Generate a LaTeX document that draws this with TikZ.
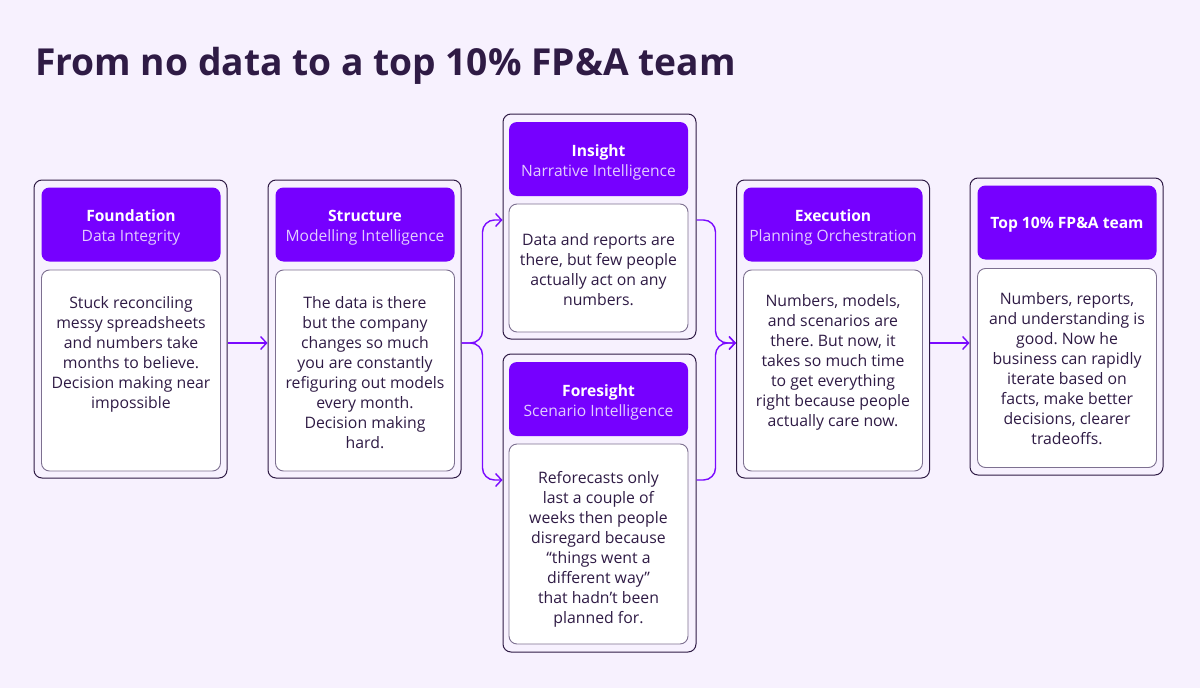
\documentclass[tikz,border=0pt]{standalone}
\usepackage{fontspec}
\setmainfont{Open Sans}
\usetikzlibrary{arrows.meta}
\frenchspacing
\definecolor{bgc}{HTML}{F7F1FE}
\definecolor{darkc}{HTML}{2F1B45}
\definecolor{headc}{HTML}{7600FF}
\definecolor{subc}{HTML}{E2CCFF}
\definecolor{bodyb}{HTML}{7D7090}
\definecolor{flowc}{HTML}{7A0AFF}
\tikzset{
  outerbox/.style={draw=darkc, line width=1pt, rounded corners=8pt, minimum width=193pt, inner sep=0pt},
  headbox/.style={fill=headc, rounded corners=8pt, minimum width=179pt, minimum height=74pt, inner sep=0pt},
  headtext/.style={align=center, text=white, inner sep=0pt, font=\fontsize{15.6pt}{21pt}\selectfont},
  bodybox/.style={draw=bodyb, fill=white, line width=0.9pt, rounded corners=8pt, minimum width=179pt, inner sep=0pt},
  bodytext/.style={align=center, text=darkc, inner sep=0pt, font=\fontsize{15.8pt}{20pt}\selectfont},
  flow/.style={draw=flowc, line width=1.4pt, rounded corners=12pt, -{Straight Barb[length=6pt,width=13pt,line width=1.4pt]}},
}
\newcommand{\hsub}[1]{\\[-1pt]\textcolor{subc}{\fontseries{m}\selectfont #1}}
\begin{document}
\begin{tikzpicture}[x=1pt,y=-1pt]
\fill[bgc] (0,0) rectangle (1200,688);
\useasboundingbox (0,0) rectangle (1200,688);

\node[anchor=base west, text=darkc, inner sep=0pt, font=\fontsize{37.2pt}{40pt}\selectfont\bfseries] (title) at (35,75) {From no data to a top 10\% FP\&A team};

% Foundation
\node[outerbox, minimum height=298pt] (foundation) at (130.5,329) {};
\node[headbox] (foundationH) at (131,224.5) {};
\node[headtext] (foundationL) at (131,227.5) {\textbf{Foundation}\hsub{Data Integrity}};
\node[bodybox, minimum height=201pt] (foundationB) at (131,370.5) {};
\node[bodytext] (foundationT) at (131,354) {Stuck reconciling\\messy spreadsheets\\and numbers take\\months to believe.\\Decision making near\\impossible};

% Structure
\node[outerbox, minimum height=298pt] (structure) at (364.5,329) {};
\node[headbox] (structureH) at (365,224.5) {};
\node[headtext] (structureL) at (365,227.5) {\textbf{Structure}\hsub{Modelling Intelligence}};
\node[bodybox, minimum height=201pt] (structureB) at (365,370.5) {};
\node[bodytext] (structureT) at (365,373) {The data is there\\but the company\\changes so much\\you are constantly\\refiguring out models\\every month.\\Decision making\\hard.};

% Insight
\node[outerbox, minimum height=225pt] (insight) at (599.5,226.5) {};
\node[headbox] (insightH) at (598.5,159) {};
\node[headtext] (insightL) at (598.5,162) {\textbf{Insight}\hsub{Narrative Intelligence}};
\node[bodybox, minimum height=128pt] (insightB) at (598.5,268) {};
\node[bodytext] (insightT) at (598.5,270) {Data and reports are\\there, but few people\\actually act on any\\numbers.};

% Foresight
\node[outerbox, minimum height=298pt] (foresight) at (599.5,503) {};
\node[headbox] (foresightH) at (598.5,399) {};
\node[headtext] (foresightL) at (598.5,402) {\textbf{Foresight}\hsub{Scenario Intelligence}};
\node[bodybox, minimum height=200pt] (foresightB) at (598.5,544) {};
\node[bodytext] (foresightT) at (598.5,549) {Reforecasts only\\last a couple of\\weeks then people\\disregard because\\“things went a\\different way”\\that hadn’t been\\planned for.};

% Execution
\node[outerbox, minimum height=298pt] (execution) at (833,329) {};
\node[headbox] (executionH) at (833,224.5) {};
\node[headtext] (executionL) at (833,227.5) {\textbf{Execution}\hsub{Planning Orchestration}};
\node[bodybox, minimum height=201pt] (executionB) at (833,370.5) {};
\node[bodytext] (executionT) at (833,362) {Numbers, models,\\and scenarios are\\there. But now, it\\takes so much time\\to get everything\\right because people\\actually care now.};

% Top
\node[outerbox, minimum height=297pt] (top) at (1066.5,326.5) {};
\node[headbox] (topH) at (1067,222.5) {};
\node[headtext] (topL) at (1067,224.5) {\textbf{Top 10\% FP\&A team}};
\node[bodybox, minimum height=199pt] (topB) at (1067,368) {};
\node[bodytext] (topT) at (1067,369) {Numbers, reports,\\and understanding is\\good. Now he\\business can rapidly\\iterate based on\\facts, make better\\decisions, clearer\\tradeoffs.};

% Connectors
\draw[flow] ([yshift=-14pt]foundation.east) -- ([yshift=-14pt]structure.west);
\draw[flow] ([yshift=-14pt]structure.east) -| ([xshift=-20pt,yshift=6.5pt]insight.west) -- ([yshift=6.5pt]insight.west);
\draw[flow] ([yshift=-14pt]structure.east) -| ([xshift=-20pt,yshift=23pt]foresight.west) -- ([yshift=23pt]foresight.west);
\draw[flow] ([yshift=6.5pt]insight.east) -- ([xshift=19pt,yshift=6.5pt]insight.east) |- ([yshift=-14pt]execution.west);
\draw[flow] ([yshift=23pt]foresight.east) -- ([xshift=19pt,yshift=23pt]foresight.east) |- ([yshift=-14pt]execution.west);
\draw[flow] ([yshift=-14pt]execution.east) -- ([yshift=-16.5pt]top.west);
\end{tikzpicture}
\end{document}
